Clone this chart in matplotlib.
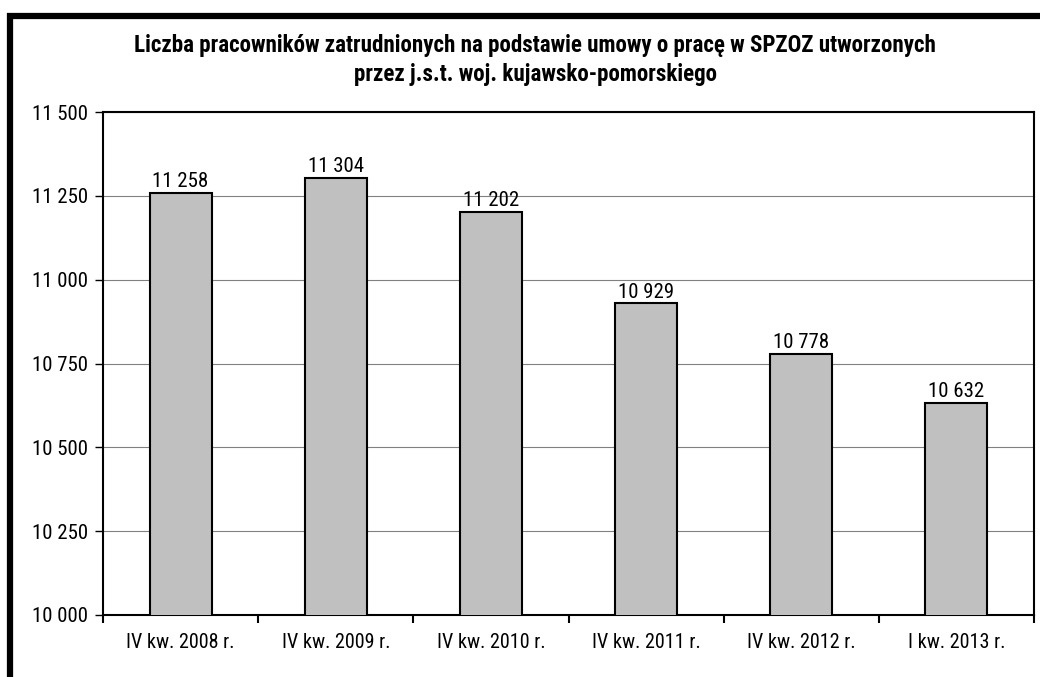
import matplotlib.pyplot as plt
from matplotlib.patches import Rectangle
from matplotlib.ticker import FuncFormatter, MultipleLocator

plt.rcParams['font.family'] = ['Roboto Condensed', 'Liberation Sans', 'DejaVu Sans']

categories = ["IV kw. 2008 r.", "IV kw. 2009 r.", "IV kw. 2010 r.",
              "IV kw. 2011 r.", "IV kw. 2012 r.", "I kw. 2013 r."]
values = [11258, 11304, 11202, 10929, 10778, 10632]
title = ("Liczba pracowników zatrudnionych na podstawie umowy o pracę w SPZOZ utworzonych\n"
         "przez j.s.t. woj. kujawsko-pomorskiego")

def fmt(v):
    return f"{int(round(v)):,}".replace(",", " ")

fig = plt.figure(figsize=(10.4, 6.77), dpi=100)
ax = fig.add_axes([103/1040, 1 - 615/677, (1034-103)/1040, (615-112)/677])

x = list(range(len(categories)))
bars = ax.bar(x, values, width=0.4, color="#C0C0C0", edgecolor="black", linewidth=1.5, zorder=3)
for xi, v in zip(x, values):
    ax.text(xi, v + 5, fmt(v), ha="center", va="bottom", fontsize=15, zorder=4)

ax.set_ylim(10000, 11500)
ax.set_xlim(-0.5, len(categories) - 0.5)
ax.yaxis.set_major_locator(MultipleLocator(250))
ax.yaxis.set_major_formatter(FuncFormatter(lambda v, p: fmt(v)))
ax.grid(axis="y", color="#808080", linewidth=0.8, zorder=0)

ax.set_xticks(x)
ax.set_xticklabels(categories, fontsize=14.5)
ax.set_xticks([i - 0.5 for i in range(len(categories) + 1)], minor=True)
ax.tick_params(axis="x", which="major", length=0, pad=13)
ax.tick_params(axis="x", which="minor", length=6, width=1.5, direction="out")
ax.tick_params(axis="y", length=6, width=1, direction="out", labelsize=15, pad=5)

for s in ax.spines.values():
    s.set_linewidth(1.5)
    s.set_color("black")

fig.text(535/1040, 1 - 60/677, title, ha="center", va="center", fontsize=16.6,
         fontweight="bold", linespacing=1.35)

fig.patches.append(Rectangle((10/1040, -0.1), 1.2, 1 - 16/677 + 0.1, transform=fig.transFigure,
                             fill=False, edgecolor="black", linewidth=4.5, zorder=10))

fig.savefig("out.png", dpi=100)
